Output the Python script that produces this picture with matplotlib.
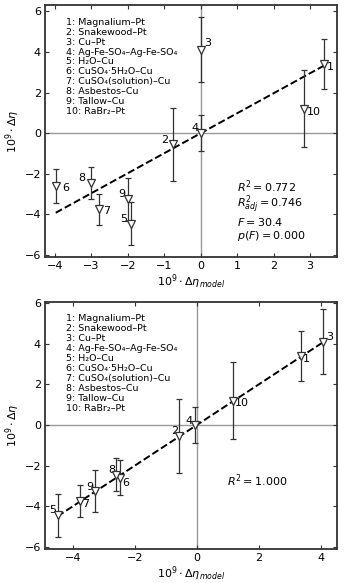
import numpy as np
import matplotlib
matplotlib.use("Agg")
import matplotlib.pyplot as plt

# materials (legend)
names = ["Magnalium–Pt", "Snakewood–Pt", "Cu–Pt", "Ag-Fe-SO₄–Ag-Fe-SO₄", "H₂O–Cu",
         "CuSO₄·5H₂O–Cu", "CuSO₄(solution)–Cu", "Asbestos–Cu", "Tallow–Cu", "RaBr₂–Pt"]
point_ids = [str(i) for i in range(1, 11)]

# observed values and errors (same for both panels)
obs = [3.4, -0.55, 4.1, 0.0, -4.45, -2.6, -3.75, -2.45, -3.25, 1.2]
err = [1.22, 1.8, 1.6, 0.9, 1.07, 0.85, 0.78, 0.8, 1.05, 1.9]

# model values
model_top = [3.37, -0.77, 0.0, 0.0, -1.92, -3.98, -2.78, -3.0, -1.99, 2.83]
model_bot = [3.35, -0.57, 4.08, -0.06, -4.5, -2.5, -3.78, -2.6, -3.3, 1.15]

# fit lines (intercept, slope)
fit_top = (0.0, 0.984)
fit_bot = (0.0, 1.0)

stats_top = [r"$R^2 = 0.772$", r"$R^2_{adj} = 0.746$", r"$F = 30.4$", r"$p(F) = 0.000$"]
stats_bot = [r"$R^2 = 1.000$"]

# label offsets (points, label centre relative to marker)
off_top = [(5, -2), (-6, 3.4), (5, 5), (-4, 3.4), (-5, 3.5), (7, -1.5), (5, -1.5), (-7, 3.6), (-4.5, 3.6), (7.5, -2)]
off_bot = [(4, -2), (-3, 3.6), (4.8, 3.2), (-4.3, 3.1), (-3.8, 3.6), (4.6, -4), (4.3, -2), (-3, 3.6), (-3.6, 2.9), (6.5, -2)]

plt.rcParams["font.family"] = ["DejaVu Sans"]
plt.rcParams["font.size"] = 8
edge = "#333333"

fig = plt.figure(figsize=(3.5, 5.83), dpi=100)
ax1 = fig.add_axes([0.129, 0.559, 0.834, 0.432])
ax2 = fig.add_axes([0.129, 0.058, 0.834, 0.424])


def panel(ax, mx, fit, offs, stats, stat_x, stat_y, xlim, ylim, xticks):
    ax.axhline(0, color="#999999", lw=1.0, zorder=1)
    ax.axvline(0, color="#999999", lw=1.0, zorder=1)
    xs = np.array([min(mx), max(mx)])
    ax.plot(xs, fit[0] + fit[1] * xs, ls="--", color="black", lw=1.4, zorder=2)
    ax.errorbar(mx, obs, yerr=err, fmt="v", color=edge, ecolor=edge, elinewidth=0.9,
                capsize=2.5, capthick=0.9, mfc="white", mec=edge, ms=6, mew=0.9, zorder=3)
    for x, y, lab, o in zip(mx, obs, point_ids, offs):
        ax.annotate(lab, (x, y), xytext=o, textcoords="offset points", fontsize=8,
                    ha="center", va="center")
    ax.text(0.07, 0.95, "\n".join(f"{i}: {n}" for i, n in zip(point_ids, names)),
            transform=ax.transAxes, fontsize=6.8, va="top", ha="left", linespacing=1.13)
    for s, y in zip(stats, stat_y):
        ax.text(stat_x, y, s, fontsize=8, va="baseline", ha="left")
    ax.set_xlim(*xlim)
    ax.set_ylim(*ylim)
    ax.set_xticks(xticks)
    ax.set_yticks([-6, -4, -2, 0, 2, 4, 6])
    ax.tick_params(direction="in", top=True, right=True, length=3, color=edge, labelsize=8, pad=3)
    for s in ax.spines.values():
        s.set_color(edge)
        s.set_linewidth(1.3)
    ax.set_xlabel(r"$10^9 \cdot \Delta\eta_{model}$", fontsize=8, labelpad=1)
    ax.set_ylabel(r"$10^9 \cdot \Delta\eta$", fontsize=8, labelpad=2)


panel(ax1, model_top, fit_top, off_top, stats_top, 1.0, [-2.88, -3.68, -4.55, -5.2],
      (-4.27, 3.74), (-6.1, 6.3), [-4, -3, -2, -1, 0, 1, 2, 3])
panel(ax2, model_bot, fit_bot, off_bot, stats_bot, 0.97, [-2.98],
      (-4.9, 4.52), (-6.12, 6.05), [-4, -2, 0, 2, 4])

fig.savefig("out.png", dpi=100)
